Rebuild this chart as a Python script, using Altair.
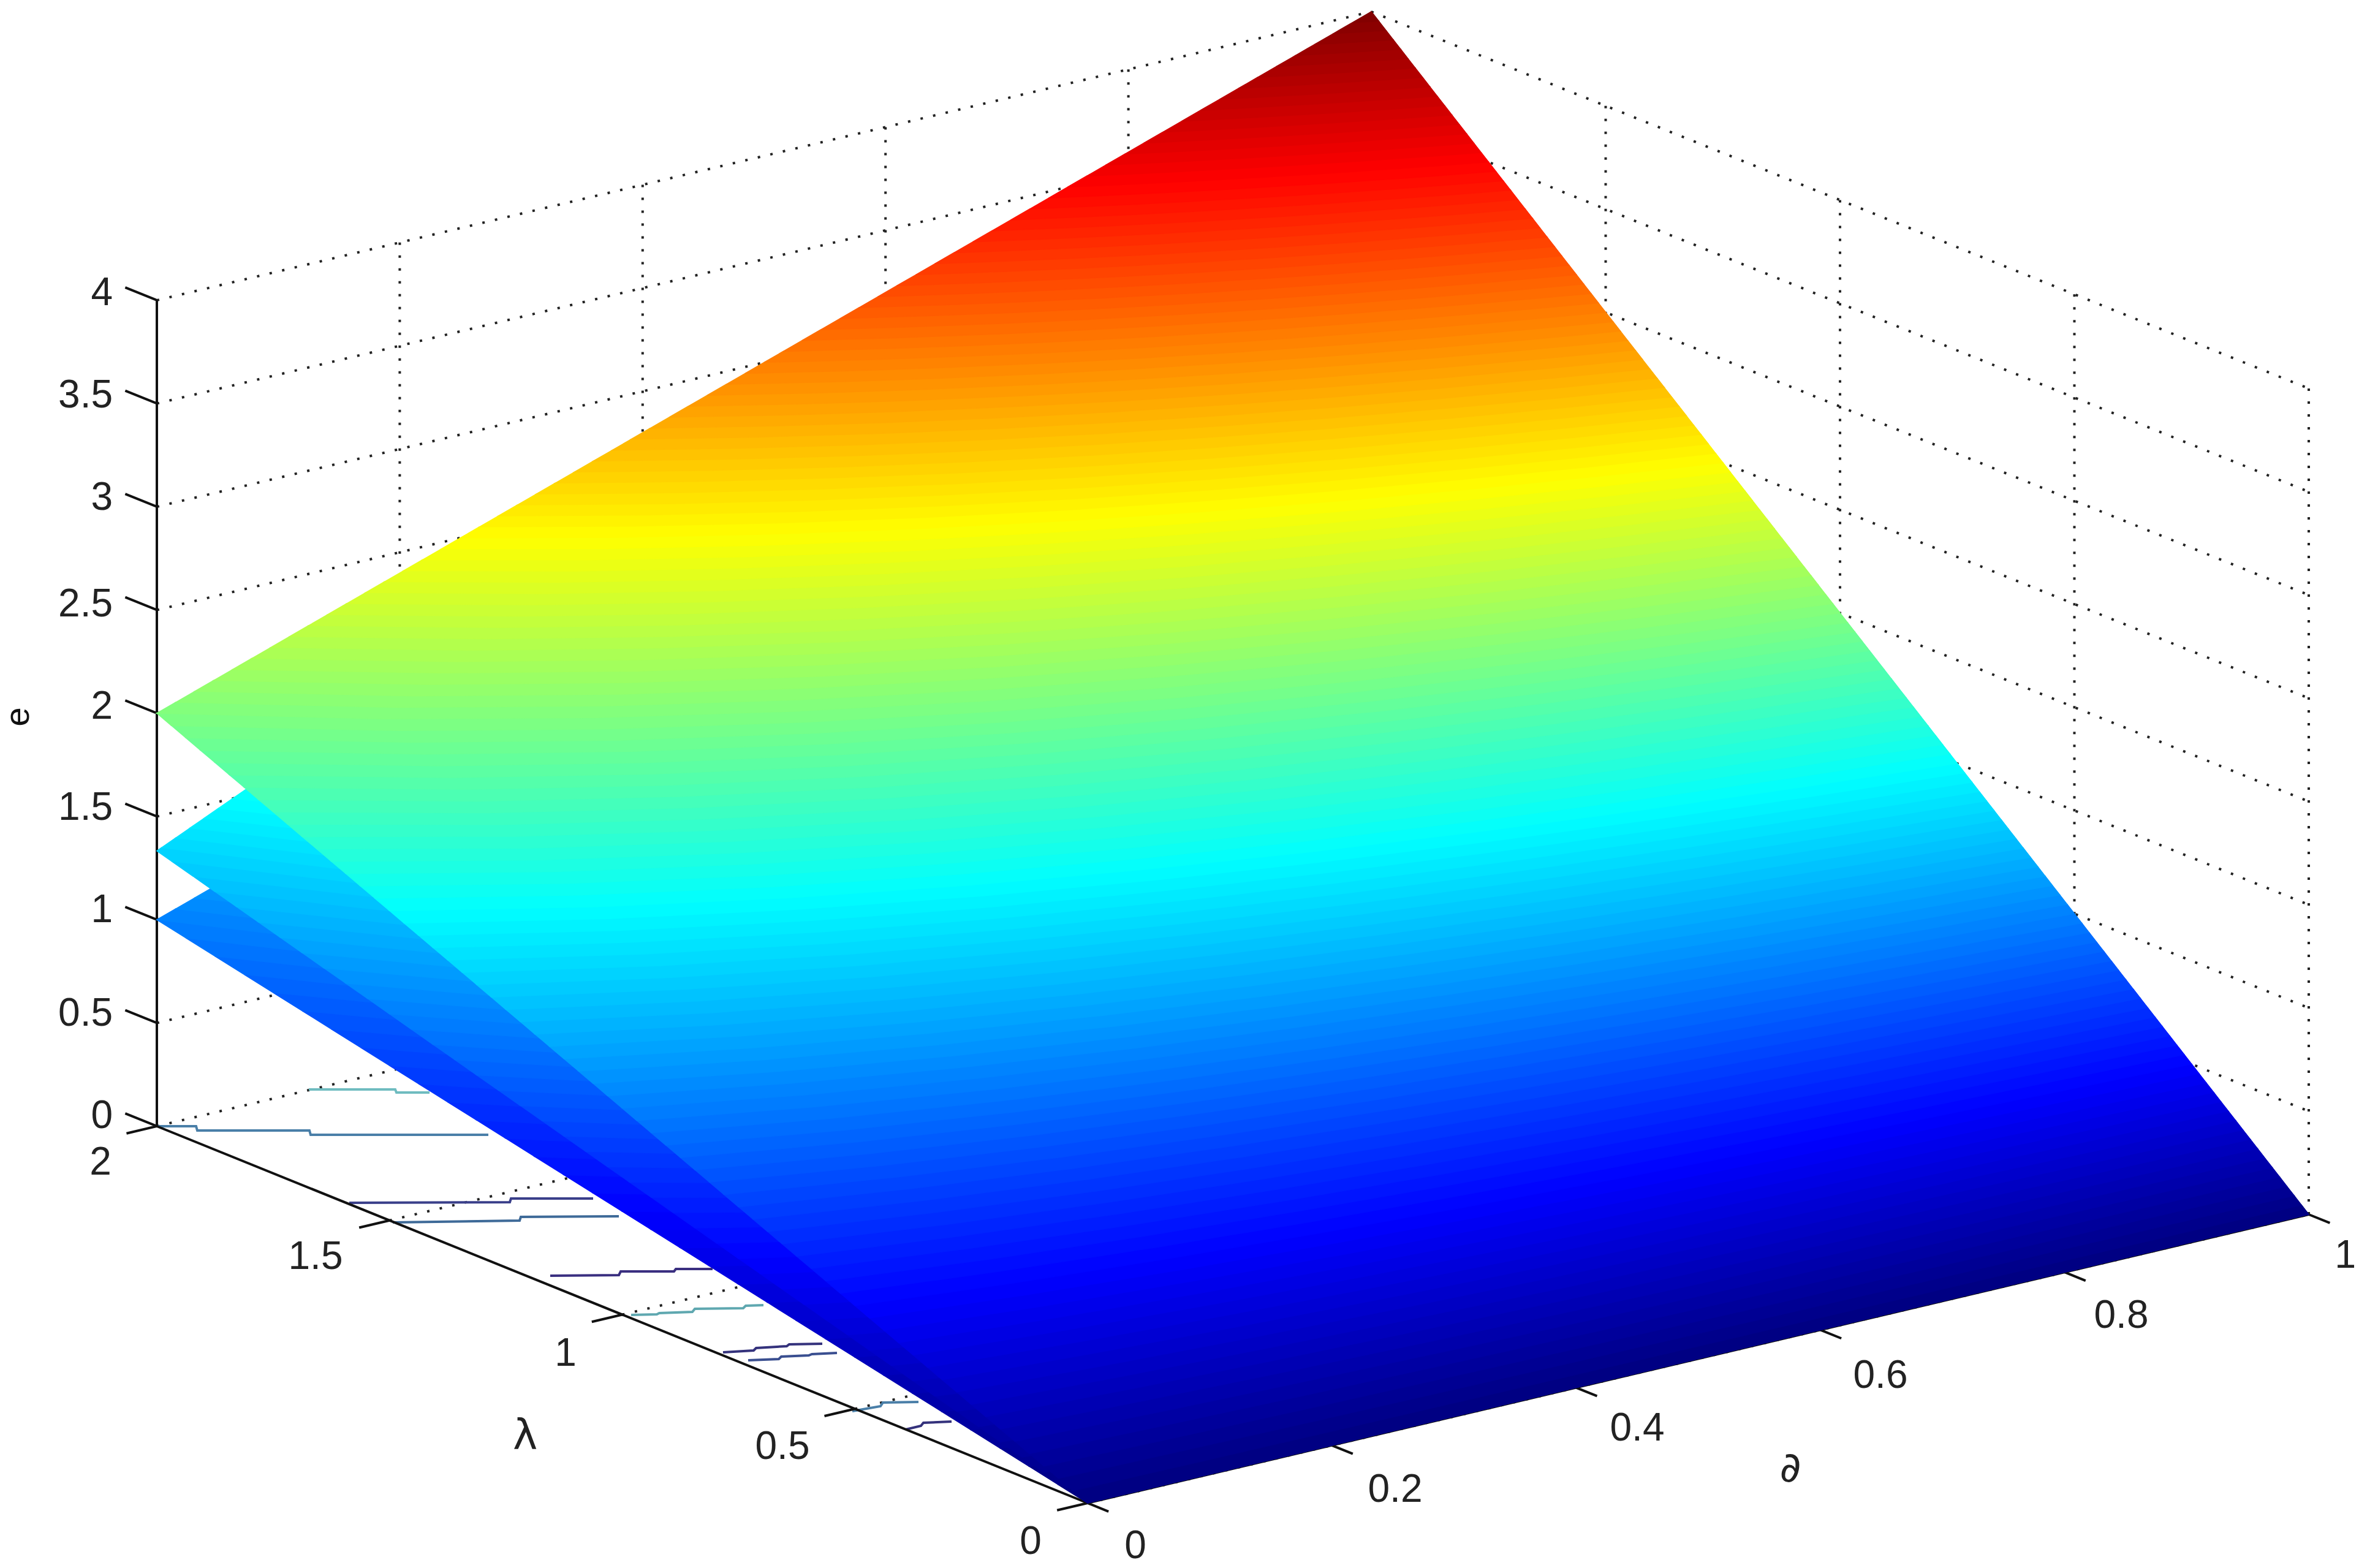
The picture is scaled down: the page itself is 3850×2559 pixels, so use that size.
import numpy as np
import pandas as pd
import altair as alt

# Axis ticks
E_TICKS = [0, 0.5, 1, 1.5, 2, 2.5, 3, 3.5, 4]
L_TICKS = [0, 0.5, 1, 1.5, 2]
D_TICKS = [0, 0.2, 0.4, 0.6, 0.8, 1]

# Corner values of each surface: e at (lambda=2, d=0) and (lambda=2, d=1); e is 0 at lambda=0
SURFACES = [(1.0, 3.0), (4 / 3, 4.0), (2.0, 4.0)]

# Tick label positions
E_LABELS = ["0", "0.5", "1", "1.5", "2", "2.5", "3", "3.5", "4"]
E_LABEL_Y = [1822, 1655, 1486, 1319, 1154, 987, 813, 646, 479]
L_LABELS = ["0", "0.5", "1", "1.5", "2"]
L_LABEL_X = [1682, 1277, 923, 515, 164]
L_LABEL_Y = [2517, 2362, 2210, 2052, 1898]
D_LABELS = ["0", "0.2", "0.4", "0.6", "0.8", "1"]
D_LABEL_X = [1853, 2277, 2672, 3069, 3462, 3828]
D_LABEL_Y = [2524, 2432, 2332, 2246, 2148, 2050]

# Coloured floor traces: (colour, x points, y points)
TRACES = [
    ("#4a7fa8", [256, 320, 322, 505, 507, 797], [1838, 1838, 1845, 1845, 1852, 1852]),
    ("#6fbcc0", [504, 645, 647, 701], [1778, 1778, 1783, 1783]),
    ("#3a3f8a", [570, 832, 834, 968], [1963, 1962, 1956, 1956]),
    ("#3e6a98", [641, 848, 850, 1010], [1995, 1992, 1986, 1985]),
    ("#3a2f80", [898, 1010, 1013, 1100, 1103, 1163], [2082, 2081, 2075, 2075, 2071, 2071]),
    ("#5fa8b0", [1030, 1072, 1076, 1130, 1134, 1213, 1217, 1246], [2146, 2145, 2143, 2141, 2136, 2135, 2131, 2130]),
    ("#34327c", [1180, 1230, 1234, 1284, 1288, 1342], [2207, 2204, 2200, 2197, 2194, 2193]),
    ("#3a4f90", [1221, 1271, 1275, 1320, 1325, 1366], [2220, 2218, 2214, 2212, 2210, 2208]),
    ("#4a7fa8", [1391, 1437, 1441, 1499], [2303, 2295, 2289, 2288]),
    ("#34327c", [1478, 1503, 1507, 1553], [2333, 2327, 2322, 2320]),
]

# Axonometric view of the box
OX, OY = 1775, 2453
DX, DY = 1993, -471      # one unit of d
LX, LY = -759.5, -307.5  # one unit of lambda
SKEW = -5.5              # slight convergence towards the back corner
EY = -337                # one unit of e


def px(d, l, e=0.0):
    d, l, e = np.asarray(d, float), np.asarray(l, float), np.asarray(e, float)
    return OX + DX * d + LX * l + SKEW * d * l, OY + DY * d + LY * l + EY * e


def jet(v):
    v = np.clip(v, 0, 1)
    r = np.clip(min(4 * v - 1.5, -4 * v + 4.5), 0, 1)
    g = np.clip(min(4 * v - 0.5, -4 * v + 3.5), 0, 1)
    b = np.clip(min(4 * v + 0.5, -4 * v + 2.5), 0, 1)
    return "#%02x%02x%02x" % (round(r * 255), round(g * 255), round(b * 255))


def spans(poly):
    """Top and bottom of a polygon at each of its vertex x positions."""
    xs = np.unique(poly[:, 0])
    p, q = poly, np.roll(poly, -1, axis=0)
    out = []
    for x in xs:
        ys = []
        for (ax, ay), (bx, by) in zip(p, q):
            if min(ax, bx) <= x <= max(ax, bx):
                if ax == bx:
                    ys += [ay, by]
                else:
                    ys.append(ay + (x - ax) / (bx - ax) * (by - ay))
        out.append((x, min(ys), max(ys)))
    return out


def surface_rows(e_left, e_right, sid, n_levels=128, m=10):
    c = e_left / 2
    k = (e_right - e_left) / e_left
    lam = lambda dv, e: e / (c * (1 + k * dv))
    dmin = lambda e: max(0.0, (e / (2 * c) - 1) / k)
    rows = []
    for i in range(n_levels):
        e1, e2 = 4 * i / n_levels, 4 * (i + 1) / n_levels
        if e1 >= e_right - 1e-9:
            break
        e2 = min(e2, e_right)
        d2 = np.linspace(dmin(e2), 1, m)
        d1 = np.linspace(dmin(e1), 1, m)
        pts = [np.array(px(d, lam(d, e2), e2)) for d in d2]
        pts += [np.array(px(d, lam(d, e1), e1)) for d in d1[::-1]]
        if e1 < e_left < e2:
            pts.append(np.array(px(0, 2, e_left)))
        col = jet((e1 + e2) / 2 / 4)
        for x, y1, y2 in spans(np.array(pts)):
            rows.append(dict(x=float(x), y=float(y1), y2=float(y2), b=f"{sid}-{i}", c=col))
    return pd.DataFrame(rows)


X = alt.X("x:Q", scale=alt.Scale(domain=[8, 3842]), axis=None)
Y = alt.Y("y:Q", scale=alt.Scale(domain=[2551, 8]), axis=None)


def polylines(lines):
    rows = []
    for g, (xs, ys) in enumerate(lines):
        for i, (x, y) in enumerate(zip(xs, ys)):
            rows.append(dict(x=float(x), y=float(y), g=g, i=i))
    return pd.DataFrame(rows)


def seg(d0, l0, e0, d1, l1, e1):
    a, b = px(d0, l0, e0), px(d1, l1, e1)
    return [a[0], b[0]], [a[1], b[1]]


# dotted grid on the two back walls and the floor
grid = []
for e in E_TICKS:
    grid.append(seg(0, 2, e, 1, 2, e))
    grid.append(seg(1, 2, e, 1, 0, e))
for d in D_TICKS[1:]:
    grid.append(seg(d, 2, 0, d, 2, 4))
    grid.append(seg(d, 0, 0, d, 2, 0))
for l in L_TICKS[:-1]:
    grid.append(seg(1, l, 0, 1, l, 4))
    grid.append(seg(0, l, 0, 1, l, 0))

grid_layer = alt.Chart(polylines(grid)).mark_line(
    color="#222222", strokeWidth=4, strokeDash=[4, 17]
).encode(X, Y, detail="g:N", order="i:Q")

# solid axes and ticks
solid = [
    seg(0, 2, 0, 0, 2, 4),
    seg(0, 0, 0, 0, 2, 0),
    seg(0, 0, 0, 1, 0, 0),
]
for e in E_TICKS:
    solid.append(seg(0, 2, e, 0, 2.068, e))
for l in L_TICKS:
    solid.append(seg(0, l, 0, -0.025, l, 0))
for d in D_TICKS:
    solid.append(seg(d, 0, 0, d, -0.045, 0))

axis_layer = alt.Chart(polylines(solid)).mark_line(
    color="#111111", strokeWidth=4
).encode(X, Y, detail="g:N", order="i:Q")

# coloured floor traces
trace_rows = []
for g, (col, xs, ys) in enumerate(TRACES):
    for i, (x, y) in enumerate(zip(xs, ys)):
        trace_rows.append(dict(x=x, y=y, g=g, i=i, c=col))
trace_layer = alt.Chart(pd.DataFrame(trace_rows)).mark_line(strokeWidth=4).encode(
    X, Y, alt.Color("c:N", scale=None), detail="g:N", order="i:Q"
)

# surfaces, back to front
surface_layers = []
for sid, (el, er) in enumerate(SURFACES):
    surface_layers.append(
        alt.Chart(surface_rows(el, er, sid)).mark_area(strokeWidth=1.5).encode(
            X, Y, alt.Y2("y2:Q"),
            alt.Fill("c:N", scale=None),
            alt.Stroke("c:N", scale=None),
            detail="b:N",
        )
    )

# text
FONT = "Liberation Sans"
lab_rows = []
for t, y in zip(E_LABELS, E_LABEL_Y):
    lab_rows.append(dict(x=184, y=y, t=t))
e_text = alt.Chart(pd.DataFrame(lab_rows)).mark_text(
    font=FONT, fontSize=64, align="right", baseline="middle", color="#222222"
).encode(X, Y, text="t:N")

other_rows = [dict(x=x, y=y, t=t) for t, x, y in zip(L_LABELS, L_LABEL_X, L_LABEL_Y)]
other_rows += [dict(x=x, y=y, t=t) for t, x, y in zip(D_LABELS, D_LABEL_X, D_LABEL_Y)]
o_text = alt.Chart(pd.DataFrame(other_rows)).mark_text(
    font=FONT, fontSize=64, align="center", baseline="middle", color="#222222"
).encode(X, Y, text="t:N")

sym = alt.Chart(pd.DataFrame([dict(x=857, y=2345, t="λ"), dict(x=2922, y=2398, t="∂")])).mark_text(
    font="DejaVu Sans", fontSize=68, align="center", baseline="middle", color="#222222"
).encode(X, Y, text="t:N")

e_title = alt.Chart(pd.DataFrame([dict(x=30, y=1170, t="e")])).mark_text(
    font=FONT, fontSize=56, align="center", baseline="middle", color="#111111", angle=270
).encode(X, Y, text="t:N")

chart = alt.layer(
    grid_layer, trace_layer, axis_layer, *surface_layers, e_text, o_text, sym, e_title
).properties(
    width=3834, height=2543, padding=0, background="white",
    autosize=alt.AutoSizeParams(type="none"),
).configure_view(stroke=None)

chart.save("out.html", embed_options={"renderer": "svg", "actions": False})
